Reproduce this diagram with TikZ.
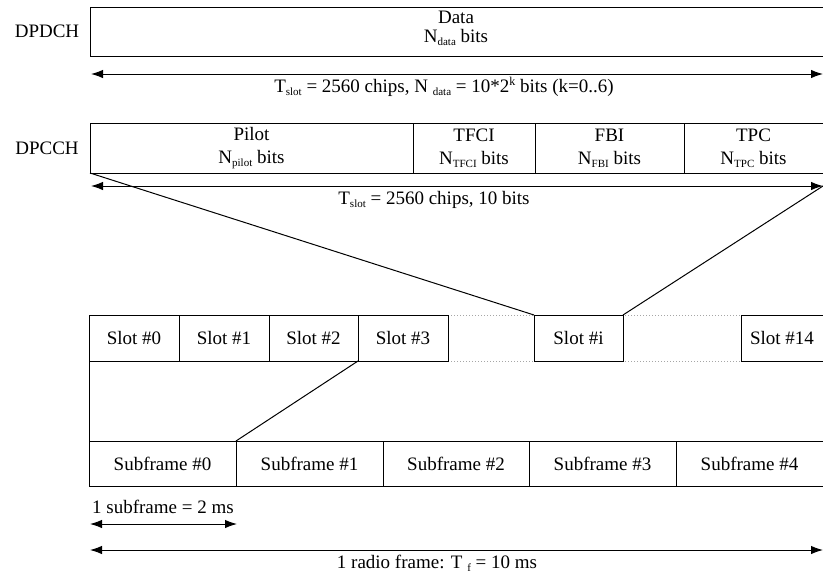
\documentclass[tikz,border=0pt]{standalone}
\usepackage{fontspec}
\setmainfont{Liberation Serif}
\usetikzlibrary{arrows.meta}
\newcommand{\lsub}[1]{\raisebox{-0.35ex}{\fontsize{11}{11}\selectfont #1}}
\newcommand{\lsup}[1]{\raisebox{0.75ex}{\fontsize{12}{12}\selectfont #1}}
\begin{document}
\begin{tikzpicture}[x=1pt,y=-1pt,
  every node/.style={font=\fontsize{19}{23}\selectfont},
  cell/.style={draw, line width=1pt, inner sep=0pt, outer sep=0pt, align=center, anchor=north west},
  lbl/.style={inner sep=0pt, align=center},
  dim/.style={line width=1pt, {Latex[length=12pt,width=8.5pt]}-{Latex[length=12pt,width=8.5pt]}},
  link/.style={line width=1pt},
  gap/.style={draw=gray!70, line width=1pt, dotted}]
\useasboundingbox (0,0) rectangle (823,573);

% DPDCH
\node[lbl] (dpdchlbl) at (47,31) {DPDCH};
\node[cell, minimum width=733pt, minimum height=49pt] (data) at (90,7) {};
\node[lbl] (datatxt) at (456,28) {Data\\[-4pt]N\lsub{data} bits};
\coordinate (a1l) at (91,74);
\coordinate (a1r) at (823,74);
\draw[dim] (a1l) -- (a1r);
\node[lbl] (a1lbl) at (444,87) {T\lsub{slot} = 2560 chips, N \lsub{data} = 10*2\lsup{k} bits (k=0..6)};

% DPCCH
\node[lbl] (dpcchlbl) at (47,148) {DPCCH};
\node[cell, minimum width=323pt, minimum height=50pt] (pilot) at (90,123) {Pilot\\[0pt]N\lsub{pilot} bits};
\node[cell, minimum width=122pt, minimum height=50pt] (tfci) at (413,123) {TFCI\\[0pt]N\lsub{TFCI} bits};
\node[cell, minimum width=149pt, minimum height=50pt] (fbi) at (535,123) {FBI\\[0pt]N\lsub{FBI} bits};
\node[cell, minimum width=139pt, minimum height=50pt] (tpc) at (684,123) {TPC\\[0pt]N\lsub{TPC} bits};
\coordinate (a2l) at (91,186);
\coordinate (a2r) at (823,186);
\draw[dim] (a2l) -- (a2r);
\node[lbl] (a2lbl) at (434,200) {T\lsub{slot} = 2560 chips, 10 bits};

% Slots
\draw[gap] (448,315) -- (741,315);
\draw[gap] (448,361) -- (741,361);
\node[cell, minimum width=90pt, minimum height=46pt] (s0) at (89,315) {Slot \#0};
\node[cell, minimum width=90pt, minimum height=46pt] (s1) at (179,315) {Slot \#1};
\node[cell, minimum width=89pt, minimum height=46pt] (s2) at (269,315) {Slot \#2};
\node[cell, minimum width=90pt, minimum height=46pt] (s3) at (358,315) {Slot \#3};
\node[cell, minimum width=89pt, minimum height=46pt] (si) at (534,315) {Slot \#i};
\node[cell, minimum width=82pt, minimum height=46pt] (s14) at (741,315) {Slot \#14};

% Subframes
\node[cell, minimum width=147pt, minimum height=45pt] (f0) at (89,441) {Subframe \#0};
\node[cell, minimum width=147pt, minimum height=45pt] (f1) at (236,441) {Subframe \#1};
\node[cell, minimum width=146pt, minimum height=45pt] (f2) at (383,441) {Subframe \#2};
\node[cell, minimum width=147pt, minimum height=45pt] (f3) at (529,441) {Subframe \#3};
\node[cell, minimum width=147pt, minimum height=45pt] (f4) at (676,441) {Subframe \#4};

% Zoom links
\draw[link] (pilot.south west) -- (si.north west);
\draw[link] (a2r) -- (si.north east);
\draw[link] (s0.south west) -- (f0.north west);
\draw[link] (s3.south west) -- (f0.north east);

% Bottom dimensions
\node[lbl, anchor=west] (sflbl) at (92,507) {1 subframe = 2 ms};
\coordinate (a3l) at (90,524);
\coordinate (a3r) at (237,524);
\draw[dim] (a3l) -- (a3r);
\coordinate (a4l) at (90,550);
\coordinate (a4r) at (823,550);
\draw[dim] (a4l) -- (a4r);
\node[lbl] (a4lbl) at (437,563) {1 radio frame: T \lsub{f} = 10 ms};
\end{tikzpicture}
\end{document}
